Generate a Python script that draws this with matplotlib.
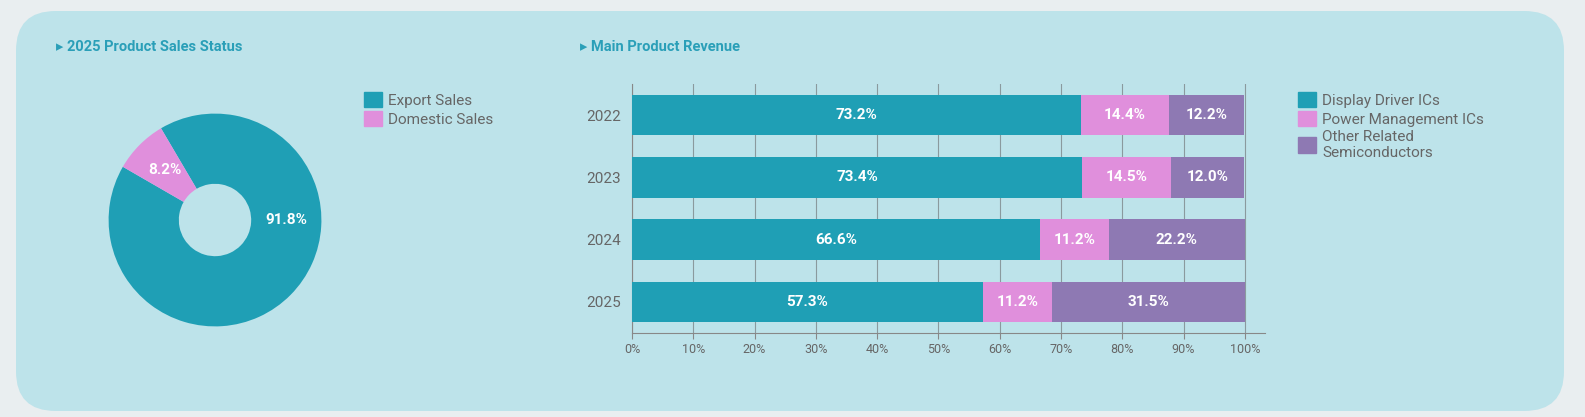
import matplotlib.pyplot as plt
from matplotlib.patches import FancyBboxPatch, Patch
import numpy as np

plt.rcParams['font.family'] = ['Roboto', 'DejaVu Sans']

# donut data
sales_labels = ['Export Sales', 'Domestic Sales']
sales_values = [91.8, 8.2]

# stacked bar data
years = ['2022', '2023', '2024', '2025']
series_names = ['Display Driver ICs', 'Power Management ICs', 'Other Related\nSemiconductors']
display_ic = [73.2, 73.4, 66.6, 57.3]
power_ic = [14.4, 14.5, 11.2, 11.2]
other_ic = [12.2, 12.0, 22.2, 31.5]

teal = '#1f9fb5'
pink = '#e08fdc'
purple = '#8e79b3'
title_c = '#2a9fb8'
txt_c = '#666666'

fig = plt.figure(figsize=(15.85, 4.17), dpi=100)
fig.patch.set_facecolor('#e9eef0')
W, H = 1585, 417
panel = FancyBboxPatch((16 / W, 6 / H), 1548 / W, 400 / H,
                       boxstyle='round,pad=0,rounding_size=0.025',
                       transform=fig.transFigure, facecolor='#bde3ea',
                       edgecolor='none', mutation_aspect=W / H, zorder=-10)
fig.patches.append(panel)

fig.text(56 / W, 1 - 47 / H, '\u25B8 2025 Product Sales Status', color=title_c,
         fontsize=10.5, fontweight='bold', va='center')
fig.text(580 / W, 1 - 47 / H, '\u25B8 Main Product Revenue', color=title_c,
         fontsize=10.5, fontweight='bold', va='center')

# donut
ax1 = fig.add_axes([82 / W, 64 / H, 266 / W, 266 / H])
wedges, _ = ax1.pie(sales_values, colors=[teal, pink], startangle=150,
                    wedgeprops=dict(width=0.66, edgecolor='none'))
for w, v in zip(wedges, sales_values):
    ang = np.radians((w.theta1 + w.theta2) / 2)
    if v > 50:
        ang = np.radians(0)
    ax1.text(0.67 * np.cos(ang), 0.67 * np.sin(ang), f'{v}%', ha='center', va='center',
             color='white', fontsize=11, fontweight='bold')
ax1.set_aspect('equal')
fig.legend(handles=[Patch(color=c) for c in [teal, pink]], labels=sales_labels,
           loc='upper left', bbox_to_anchor=(350 / W, 1 - 78 / H), frameon=False,
           handlelength=1.2, handleheight=1.2, handletextpad=0.4, labelspacing=0.2,
           fontsize=11, labelcolor=txt_c)

# stacked bars
ax2 = fig.add_axes([632 / W, 84 / H, 633 / W, 249 / H])
ax2.set_facecolor('none')
y = np.arange(len(years))
left = np.zeros(len(years))
for vals, col in zip([display_ic, power_ic, other_ic], [teal, pink, purple]):
    ax2.barh(y, vals, left=left, color=col, height=0.65, zorder=3)
    for yi, l, v in zip(y, left, vals):
        ax2.text(l + v / 2, yi, f'{v}%', ha='center', va='center', color='white',
                 fontsize=11, fontweight='bold', zorder=4)
    left += np.array(vals)
ax2.set_yticks(y)
ax2.set_yticklabels(years, fontsize=11, color=txt_c)
ax2.set_ylim(3.5, -0.5)
ax2.set_xlim(0, 103.3)
ax2.set_xticks(np.arange(0, 101, 10))
ax2.set_xticklabels([f'{t}%' for t in range(0, 101, 10)], fontsize=9, color=txt_c)
ax2.grid(axis='x', color='#8a9a9e', linewidth=0.8, zorder=0)
ax2.tick_params(axis='y', length=0, pad=8)
ax2.tick_params(axis='x', length=4, color='#888888')
for s in ['top', 'right']:
    ax2.spines[s].set_visible(False)
for s in ['left', 'bottom']:
    ax2.spines[s].set_color('#888888')
fig.legend(handles=[Patch(color=c) for c in [teal, pink, purple]], labels=series_names,
           loc='upper left', bbox_to_anchor=(1284 / W, 1 - 78 / H), frameon=False,
           handlelength=1.2, handleheight=1.2, handletextpad=0.4, labelspacing=0.2,
           fontsize=11, labelcolor=txt_c)

fig.savefig('out.png', dpi=100, facecolor=fig.get_facecolor())
